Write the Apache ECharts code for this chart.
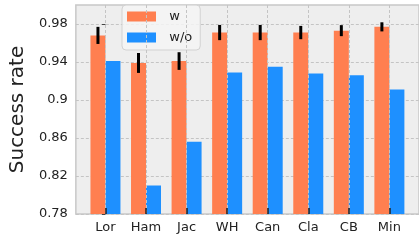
<!DOCTYPE html>
<html>
<head>
<meta charset="utf-8">
<script src="https://cdn.jsdelivr.net/npm/echarts@6/dist/echarts.min.js"></script>
<style>
  html, body { margin: 0; padding: 0; background: #fff; }
  #chart { width: 419px; height: 240px; }
</style>
</head>
<body>
<div id="chart"></div>
<script>
// categories and values
var categories = ['Lor', 'Ham', 'Jac', 'WH', 'Can', 'Cla', 'CB', 'Min'];
var withVals = [0.968, 0.939, 0.941, 0.971, 0.971, 0.971, 0.973, 0.977];
var withErr = [0.009, 0.0105, 0.0093, 0.008, 0.008, 0.007, 0.0058, 0.0048];
var withoutVals = [0.941, 0.810, 0.856, 0.929, 0.935, 0.928, 0.926, 0.911];
var yTicks = [0.78, 0.82, 0.86, 0.9, 0.94, 0.98];

(function(){
	var myChart = echarts.init(document.getElementById('chart'));
	var font = 'DejaVu Sans';
	var barW = 15;
	var idx = categories.map(function(c, i){ return i; });

	var option = {
		animation: false,
		textStyle: { fontFamily: font },
		grid: {
			left: 74, top: 5, width: 347, bottom: 26,
			show: true,
			backgroundColor: '#eeeeee',
			borderColor: '#c8c8c8',
			borderWidth: 1.5
		},
		legend: {
			data: ['w', 'w/o'],
			orient: 'vertical',
			left: 122, top: 5,
			icon: 'rect',
			itemWidth: 29, itemHeight: 10,
			itemGap: 8,
			padding: [5, 8, 6, 5],
			backgroundColor: 'rgba(244,244,244,0.85)',
			borderColor: '#d2d2d2', borderWidth: 1, borderRadius: 4,
			formatter: function(name){ return '  ' + name; },
			textStyle: { fontFamily: font, fontSize: 13, color: '#222' }
		},
		xAxis: {
			type: 'value',
			min: -0.73, max: 7.73,
			z: 10,
			axisLine: { show: false },
			axisTick: { show: true, inside: true, length: 6, customValues: idx, lineStyle: { color: '#222', width: 1.5 } },
			axisLabel: {
				customValues: idx,
				margin: 7,
				fontSize: 13, color: '#222', fontFamily: font,
				formatter: function(v){ return categories[Math.round(v)] || ''; }
			},
			splitLine: { show: true, lineStyle: { color: '#c4c4c4', type: [3, 2], width: 1 } }
		},
		yAxis: {
			type: 'value',
			min: 0.78, max: 1.0,
			name: 'Success rate',
			nameLocation: 'middle',
			nameGap: 46,
			nameTextStyle: { fontSize: 20, color: '#222', fontFamily: font },
			axisLine: { show: false },
			axisTick: { show: true, length: 3.5, customValues: yTicks, lineStyle: { color: '#444' } },
			axisLabel: {
				customValues: yTicks,
				margin: 8,
				fontSize: 13, color: '#222', fontFamily: font,
				formatter: function(v){ return String(+v.toFixed(2)); }
			},
			splitLine: { show: true, lineStyle: { color: '#c4c4c4', type: [3, 2], width: 1 } }
		},
		series: [
			{
				name: 'w',
				type: 'bar',
				barWidth: barW,
				barGap: '0%',
				itemStyle: { color: '#ff7f50' },
				data: withVals.map(function(v, i){ return [i, v]; })
			},
			{
				name: 'w/o',
				type: 'bar',
				barWidth: barW,
				barGap: '0%',
				itemStyle: { color: '#1e90ff' },
				data: withoutVals.map(function(v, i){ return [i, v]; })
			},
			{
				name: 'err',
				type: 'custom',
				z: 5,
				renderItem: function(params, api){
					var x = api.value(0);
					var lo = api.coord([x, api.value(1)]);
					var hi = api.coord([x, api.value(2)]);
					var dx = -barW / 2;
					return {
						type: 'line',
						shape: { x1: lo[0] + dx, y1: lo[1], x2: hi[0] + dx, y2: hi[1] },
						style: { stroke: '#000', lineWidth: 3 }
					};
				},
				data: withVals.map(function(v, i){ return [i, v - withErr[i], v + withErr[i]]; })
			}
		]
	};
	myChart.setOption(option);
})();
</script>
</body>
</html>
